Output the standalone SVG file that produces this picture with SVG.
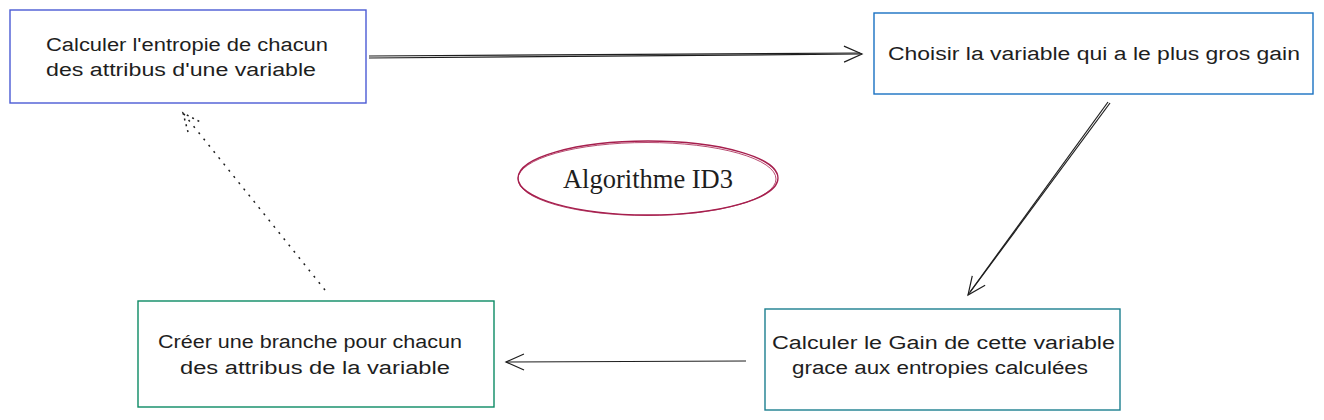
<svg xmlns="http://www.w3.org/2000/svg" width="1324" height="420" viewBox="0 0 1324 420">
<style>
.box{fill:#ffffff;stroke-width:1.4}
.t{font-family:"Liberation Sans","DejaVu Sans",sans-serif;font-size:18px;fill:#1e1e1e}
.c{fill:none;stroke:#1e1e1e;stroke-width:1.2}
.d{stroke-dasharray:2 6;stroke-width:1.5}
</style>
<defs>
<marker id="ah" markerWidth="24" markerHeight="24" refX="20" refY="12" orient="auto" markerUnits="userSpaceOnUse">
<path d="M2,4 L20,12 L2,20" fill="none" stroke="#1e1e1e" stroke-width="1.2"/>
</marker>
<marker id="ahd" markerWidth="24" markerHeight="24" refX="20" refY="12" orient="auto" markerUnits="userSpaceOnUse">
<path d="M2,4 L20,12 L2,20" fill="none" stroke="#1e1e1e" stroke-width="1.5" stroke-dasharray="2 4"/>
</marker>
</defs>
<rect width="1324" height="420" fill="#ffffff"/>
<g id="connectors">
<path class="c" d="M369,58 L862,54" marker-end="url(#ah)"/>
<path class="c" d="M369,56 L860,53"/>
<path class="c" d="M1110,103 L968,295" marker-end="url(#ah)"/>
<path class="c" d="M1108,102 L970,292"/>
<path class="c" d="M746,361 L506,362" marker-end="url(#ah)"/>
<path class="c d" d="M325,290 L183,113" marker-end="url(#ahd)"/>
</g>
<g id="node-entropie">
<rect class="box" x="10" y="10" width="356" height="93" stroke="#4a5bd4"/>
<text class="t" x="46" y="51" textLength="282" lengthAdjust="spacingAndGlyphs">Calculer l'entropie de chacun</text>
<text class="t" x="46" y="76" textLength="270" lengthAdjust="spacingAndGlyphs">des attribus d'une variable</text>
</g>
<g id="node-choisir">
<rect class="box" x="874" y="13" width="439" height="81" stroke="#1971c2"/>
<text class="t" x="888" y="60" textLength="412" lengthAdjust="spacingAndGlyphs">Choisir la variable qui a le plus gros gain</text>
</g>
<g id="node-gain">
<rect class="box" x="765" y="309" width="355" height="101" stroke="#1c7f8f"/>
<text class="t" x="772" y="349" textLength="343" lengthAdjust="spacingAndGlyphs">Calculer le Gain de cette variable</text>
<text class="t" x="792" y="374" textLength="296" lengthAdjust="spacingAndGlyphs">grace aux entropies calculées</text>
</g>
<g id="node-branche">
<rect class="box" x="138" y="301" width="356" height="106" stroke="#0c8a64"/>
<text class="t" x="158" y="348" textLength="304" lengthAdjust="spacingAndGlyphs">Créer une branche pour chacun</text>
<text class="t" x="180" y="374" textLength="270" lengthAdjust="spacingAndGlyphs">des attribus de la variable</text>
</g>
<g id="node-algo">
<ellipse cx="648" cy="178" rx="130" ry="37" fill="none" stroke="#a61e4d" stroke-width="1.3"/>
<ellipse cx="647" cy="179" rx="129" ry="36.5" fill="none" stroke="#a61e4d" stroke-width="0.8"/>
<text x="648" y="188" text-anchor="middle" font-family="Liberation Serif,serif" font-size="26.5" fill="#1e1e1e">Algorithme ID3</text>
</g>
</svg>
